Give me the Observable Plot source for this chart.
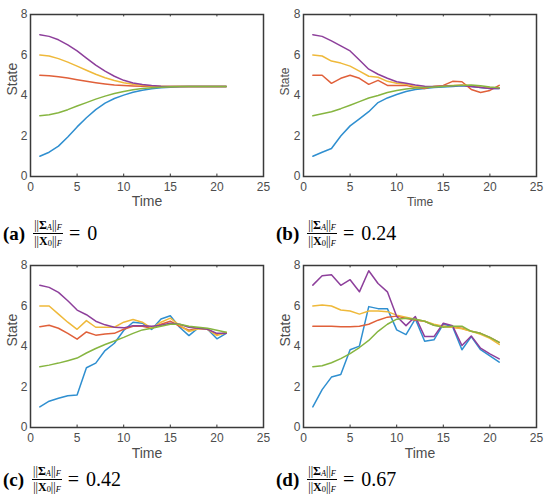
<!DOCTYPE html>
<html>
<head>
<meta charset="utf-8">
<script src="https://cdn.jsdelivr.net/npm/d3@7"></script>
<script src="https://cdn.jsdelivr.net/npm/@observablehq/plot@0.6"></script>
<style>
  html, body { margin: 0; padding: 0; background: #fff; }
  #wrap { position: relative; width: 546px; height: 498px; overflow: hidden; background: #fff; }
  .panel { position: absolute; width: 273px; }
  .cap { position: absolute; display: flex; align-items: center; font-family: "Liberation Serif", "DejaVu Serif", serif; color: #000; white-space: nowrap; }
  .cap .lab { font-weight: bold; font-size: 19px; margin-right: 8px; }
  .frac { display: inline-flex; flex-direction: column; align-items: center; font-size: 12px; line-height: 1.0; margin-right: 6px; }
  .frac .num { border-bottom: 1px solid #000; padding: 0 1px 1px 1px; }
  .frac .den { padding-top: 1px; }
  .frac sub { font-size: 70%; vertical-align: -1px; }
  .cap .rhs { font-size: 20px; word-spacing: 2px; }
</style>
</head>
<body>
<div id="wrap"></div>
<script>
const time = [1,2,3,4,5,6,7,8,9,10,11,12,13,14,15,16,17,18,19,20,21];
const xTicks = [0,5,10,15,20,25];
const yTicks = [0,2,4,6,8];

// (a) ratio 0
const aBlue   = [1.0,1.2,1.5,1.95,2.45,2.9,3.3,3.62,3.85,4.02,4.16,4.26,4.33,4.38,4.41,4.43,4.44,4.44,4.44,4.44,4.44];
const aRed    = [5.0,4.98,4.93,4.86,4.78,4.7,4.63,4.57,4.52,4.49,4.47,4.46,4.45,4.44,4.44,4.44,4.44,4.44,4.44,4.44,4.44];
const aYellow = [6.0,5.95,5.82,5.65,5.45,5.25,5.05,4.88,4.74,4.63,4.55,4.5,4.47,4.45,4.44,4.44,4.44,4.44,4.44,4.44,4.44];
const aPurple = [7.0,6.92,6.75,6.5,6.2,5.85,5.5,5.2,4.95,4.75,4.62,4.54,4.49,4.46,4.45,4.44,4.44,4.44,4.44,4.44,4.44];
const aGreen  = [3.0,3.05,3.15,3.3,3.48,3.65,3.82,3.97,4.1,4.2,4.28,4.34,4.38,4.41,4.43,4.44,4.44,4.44,4.44,4.44,4.44];

// (b) ratio 0.24
const bBlue   = [1.0,1.2,1.38,2.0,2.5,2.85,3.2,3.65,3.88,4.05,4.2,4.3,4.35,4.4,4.42,4.45,4.48,4.45,4.4,4.35,4.35];
const bRed    = [5.0,5.0,4.6,4.85,5.0,4.85,4.55,4.75,4.5,4.5,4.5,4.4,4.35,4.45,4.5,4.7,4.68,4.3,4.15,4.25,4.5];
const bYellow = [6.0,5.95,5.7,5.6,5.45,5.2,4.95,4.9,4.7,4.6,4.55,4.45,4.4,4.45,4.47,4.5,4.52,4.48,4.42,4.38,4.36];
const bPurple = [7.0,6.92,6.7,6.45,6.2,5.75,5.3,5.05,4.85,4.68,4.6,4.52,4.46,4.45,4.46,4.48,4.5,4.45,4.4,4.35,4.35];
const bGreen  = [3.0,3.1,3.2,3.35,3.52,3.7,3.88,4.0,4.15,4.25,4.32,4.37,4.4,4.42,4.45,4.48,4.5,4.52,4.48,4.42,4.38];

// (c) ratio 0.42
const cBlue   = [1.02,1.3,1.44,1.57,1.6,2.95,3.18,3.8,4.16,4.79,5.2,5.15,4.84,5.36,5.52,4.95,4.54,4.92,4.85,4.38,4.65];
const cRed    = [4.98,5.05,4.9,4.65,4.36,4.72,4.56,4.62,4.65,4.85,5.0,5.0,4.9,5.1,5.25,5.0,4.8,4.9,4.85,4.6,4.65];
const cYellow = [6.0,6.0,5.6,5.2,4.85,5.28,4.95,4.95,4.95,5.2,5.33,5.2,4.9,5.2,5.4,5.05,4.74,4.88,4.85,4.54,4.7];
const cPurple = [7.02,6.92,6.67,6.26,5.8,5.57,5.25,5.07,4.95,4.92,5.03,5.02,5.0,5.05,5.15,5.1,4.95,4.9,4.85,4.65,4.65];
const cGreen  = [3.0,3.08,3.18,3.3,3.43,3.68,3.9,4.1,4.27,4.45,4.65,4.82,4.9,5.0,5.1,5.1,5.0,4.95,4.9,4.8,4.7];

// (d) ratio 0.67
const dBlue   = [1.02,1.87,2.49,2.62,3.84,4.02,5.97,5.87,5.87,4.82,4.59,5.36,4.26,4.33,5.11,4.98,3.84,4.49,3.84,3.54,3.23];
const dRed    = [5.0,5.0,5.0,4.97,4.98,5.0,5.1,5.3,5.45,5.5,5.4,5.3,5.25,5.05,5.0,4.95,4.9,4.75,4.65,4.45,4.2];
const dYellow = [6.0,6.05,6.0,5.8,5.75,5.6,5.75,5.75,5.72,5.55,5.45,5.35,5.25,5.1,5.0,4.95,4.88,4.75,4.6,4.4,4.1];
const dPurple = [7.03,7.49,7.54,7.02,7.3,6.7,7.74,7.11,6.7,5.48,5.03,5.48,4.49,4.49,5.15,5.02,4.05,4.52,3.92,3.64,3.39];
const dGreen  = [3.0,3.05,3.2,3.4,3.65,3.95,4.3,4.75,5.1,5.35,5.4,5.35,5.25,5.05,4.95,5.0,5.0,4.75,4.65,4.45,4.2];

const captions = [
  {id: "a", value: "0"},
  {id: "b", value: "0.24"},
  {id: "c", value: "0.42"},
  {id: "d", value: "0.67"}
];

const colors = ["#2f8fd0", "#e0603a", "#efb93a", "#8d3f9b", "#86b540"];

function panel(seriesList, opts) {
  const lines = seriesList.map((vals, i) =>
    Plot.line(time.map((t, k) => ({t, v: vals[k]})), {x: "t", y: "v", stroke: colors[i], strokeWidth: 1.5})
  );
  return Plot.plot({
    width: 273,
    height: 215,
    marginLeft: 30,
    marginRight: 10,
    marginTop: opts.top,
    marginBottom: 215 - opts.top - 162,
    x: {domain: [0, 25]},
    y: {domain: [0, 8]},
    style: {fontFamily: "'Liberation Sans', Arial, sans-serif", fontSize: "12px", color: "#4d4d4d", background: "white", overflow: "visible"},
    marks: [
      Plot.axisX({ticks: xTicks, tickSize: 0, tickPadding: 6, label: null, fontSize: 12}),
      Plot.axisY({ticks: yTicks, tickSize: 0, tickPadding: 3, label: null, fontSize: 12}),
      ...lines,
      Plot.ruleX(xTicks.slice(1, -1), {y1: 0, y2: 0.12, stroke: "#333", strokeWidth: 1}),
      Plot.ruleX(xTicks.slice(1, -1), {y1: 7.88, y2: 8, stroke: "#333", strokeWidth: 1}),
      Plot.frame({stroke: "#3a3a3a", strokeWidth: 1.5}),
      Plot.text(["Time"], {text: d => d, frameAnchor: "bottom", dy: opts.timeDy, fontSize: opts.labelSize, fill: "#4d4d4d"}),
      Plot.text(["State"], {text: d => d, frameAnchor: "left", dx: -18, rotate: -90, fontSize: opts.labelSize, fill: "#4d4d4d"})
    ]
  });
}

const wrap = document.getElementById("wrap");
const panels = [
  {series: [aBlue, aRed, aYellow, aPurple, aGreen], left: 0, top: 0, opts: {top: 14, timeDy: 29, labelSize: 14}},
  {series: [bBlue, bRed, bYellow, bPurple, bGreen], left: 273, top: 0, opts: {top: 14, timeDy: 29, labelSize: 12}},
  {series: [cBlue, cRed, cYellow, cPurple, cGreen], left: 0, top: 250, opts: {top: 15, timeDy: 30, labelSize: 14}},
  {series: [dBlue, dRed, dYellow, dPurple, dGreen], left: 273, top: 250, opts: {top: 15, timeDy: 30, labelSize: 14}}
];
const capTops = [219, 219, 465, 465];

panels.forEach((p, i) => {
  const div = document.createElement("div");
  div.className = "panel";
  div.style.left = p.left + "px";
  div.style.top = p.top + "px";
  div.appendChild(panel(p.series, p.opts));
  wrap.appendChild(div);

  const c = captions[i];
  const cap = document.createElement("div");
  cap.className = "cap";
  cap.style.left = (p.left + 3) + "px";
  cap.style.top = capTops[i] + "px";
  cap.innerHTML =
    `<span class="lab">(${c.id})</span>` +
    `<span class="frac"><span class="num">||<b>Σ</b><sub><i>A</i></sub>||<sub><i>F</i></sub></span>` +
    `<span class="den">||<b>X</b><sub>0</sub>||<sub><i>F</i></sub></span></span>` +
    `<span class="rhs">= ${c.value}</span>`;
  wrap.appendChild(cap);
});
</script>
</body>
</html>
